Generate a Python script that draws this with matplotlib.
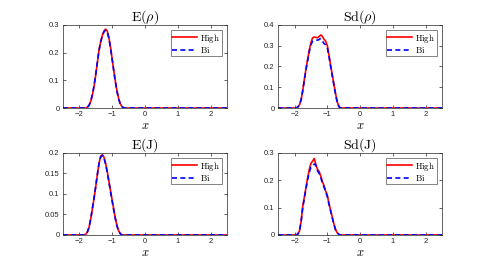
import numpy as np
import matplotlib.pyplot as plt

plt.rcParams['mathtext.fontset'] = 'cm'
plt.rcParams['font.family'] = ['Liberation Sans', 'DejaVu Sans']

# E(rho)
x_er = [-2.5, -1.8, -1.75, -1.7, -1.65, -1.6, -1.55, -1.5, -1.45, -1.4, -1.35, -1.3, -1.25,
        -1.2, -1.15, -1.1, -1.05, -1.0, -0.95, -0.9, -0.85, -0.8, -0.75, -0.7, -0.65, -0.6, 2.5]
er_high = [0, 0, 0.003, 0.010, 0.025, 0.048, 0.080, 0.120, 0.165, 0.210, 0.240, 0.262, 0.278,
           0.285, 0.278, 0.255, 0.220, 0.178, 0.135, 0.095, 0.060, 0.033, 0.015, 0.005, 0.001, 0, 0]
er_bi = [0, 0, 0.003, 0.011, 0.026, 0.050, 0.082, 0.122, 0.166, 0.208, 0.238, 0.260, 0.275,
         0.281, 0.274, 0.252, 0.217, 0.176, 0.133, 0.094, 0.059, 0.032, 0.014, 0.005, 0.001, 0, 0]

# Sd(rho)
x_sr = [-2.5, -1.95, -1.9, -1.85, -1.8, -1.75, -1.7, -1.65, -1.6, -1.55, -1.5, -1.45, -1.4, -1.35,
        -1.3, -1.25, -1.2, -1.15, -1.1, -1.05, -1.0, -0.95, -0.9, -0.85, -0.8, -0.75, -0.7,
        -0.65, -0.6, 2.5]
sr_high = [0, 0, 0.005, 0.015, 0.040, 0.085, 0.140, 0.190, 0.235, 0.280, 0.315, 0.338, 0.342,
           0.340, 0.338, 0.345, 0.352, 0.345, 0.330, 0.322, 0.300, 0.255, 0.205, 0.160, 0.115,
           0.070, 0.030, 0.008, 0, 0]
sr_bi = [0, 0, 0.005, 0.015, 0.040, 0.083, 0.136, 0.185, 0.230, 0.272, 0.305, 0.322, 0.325,
         0.326, 0.327, 0.330, 0.335, 0.322, 0.310, 0.305, 0.290, 0.248, 0.200, 0.155, 0.110,
         0.066, 0.028, 0.007, 0, 0]

# E(J)
x_ej = [-2.5, -1.85, -1.8, -1.75, -1.7, -1.65, -1.6, -1.55, -1.5, -1.45, -1.4, -1.35, -1.3,
        -1.25, -1.2, -1.15, -1.1, -1.05, -1.0, -0.95, -0.9, -0.85, -0.8, -0.75, -0.7, 2.5]
ej_high = [0, 0, 0.002, 0.008, 0.020, 0.040, 0.065, 0.090, 0.118, 0.148, 0.175, 0.192, 0.196,
           0.190, 0.175, 0.155, 0.132, 0.108, 0.085, 0.062, 0.040, 0.022, 0.010, 0.003, 0, 0]
ej_bi = [0, 0, 0.002, 0.008, 0.020, 0.041, 0.066, 0.091, 0.119, 0.148, 0.174, 0.190, 0.194,
         0.188, 0.173, 0.153, 0.130, 0.106, 0.083, 0.060, 0.039, 0.021, 0.009, 0.003, 0, 0]

# Sd(J)
x_sj = [-2.5, -1.95, -1.9, -1.85, -1.8, -1.75, -1.7, -1.65, -1.6, -1.55, -1.5, -1.45, -1.4,
        -1.35, -1.3, -1.25, -1.2, -1.15, -1.1, -1.05, -1.0, -0.95, -0.9, -0.85, -0.8, -0.75,
        -0.7, -0.65, -0.6, 2.5]
sj_high = [0, 0, 0.003, 0.015, 0.050, 0.105, 0.140, 0.175, 0.210, 0.240, 0.262, 0.270, 0.280,
           0.258, 0.240, 0.232, 0.215, 0.195, 0.180, 0.160, 0.145, 0.115, 0.090, 0.065, 0.040,
           0.020, 0.008, 0.002, 0, 0]
sj_bi = [0, 0, 0.003, 0.015, 0.048, 0.100, 0.135, 0.170, 0.203, 0.230, 0.248, 0.252, 0.260,
         0.255, 0.235, 0.225, 0.210, 0.190, 0.175, 0.157, 0.140, 0.112, 0.088, 0.063, 0.039,
         0.019, 0.008, 0.002, 0, 0]

panels = [
    (r'$\mathrm{E}(\rho)$', x_er, er_high, er_bi, 0.3, [0, 0.1, 0.2, 0.3], ['0', '0.1', '0.2', '0.3']),
    (r'$\mathrm{Sd}(\rho)$', x_sr, sr_high, sr_bi, 0.4, [0, 0.1, 0.2, 0.3, 0.4], ['0', '0.1', '0.2', '0.3', '0.4']),
    (r'$\mathrm{E}(\mathrm{J})$', x_ej, ej_high, ej_bi, 0.2, [0, 0.05, 0.1, 0.15, 0.2], ['0', '0.05', '0.1', '0.15', '0.2']),
    (r'$\mathrm{Sd}(\mathrm{J})$', x_sj, sj_high, sj_bi, 0.3, [0, 0.1, 0.2, 0.3], ['0', '0.1', '0.2', '0.3']),
]
positions = [
    [0.129, 0.5955, 0.336, 0.311],
    [0.570, 0.5955, 0.336, 0.311],
    [0.129, 0.120, 0.336, 0.307],
    [0.570, 0.120, 0.336, 0.307],
]

fig = plt.figure(figsize=(4.88, 2.67), dpi=100)
for (title, xs, yh, yb, ymax, yt, ytl), pos in zip(panels, positions):
    ax = fig.add_axes(pos)
    ax.plot(xs, yh, color='red', lw=1.2, label=r'$\mathrm{High}$')
    ax.plot(xs, yb, color='blue', lw=1.2, ls=(0, (3, 2)), label=r'$\mathrm{Bi}$')
    ax.set_xlim(-2.5, 2.5)
    ax.set_ylim(0, ymax)
    ax.set_xticks([-2, -1, 0, 1, 2])
    ax.set_yticks(yt)
    ax.set_yticklabels(ytl)
    ax.tick_params(direction='in', top=True, right=True, length=2, width=0.5,
                   labelsize=5.5, colors='#262626', pad=2.5)
    for s in ax.spines.values():
        s.set_linewidth(0.5)
        s.set_color('#262626')
    ax.set_title(title, fontsize=10, pad=3)
    ax.set_xlabel(r'$x$', fontsize=9, labelpad=1)
    leg = ax.legend(loc='upper right', fontsize=6.3, frameon=True, fancybox=False,
                    handlelength=2.8, borderpad=0.15, labelspacing=0.05,
                    handletextpad=0.4, borderaxespad=0.6)
    leg.get_frame().set_edgecolor('#262626')
    leg.get_frame().set_linewidth(0.5)

fig.savefig('out.png', dpi=100)
